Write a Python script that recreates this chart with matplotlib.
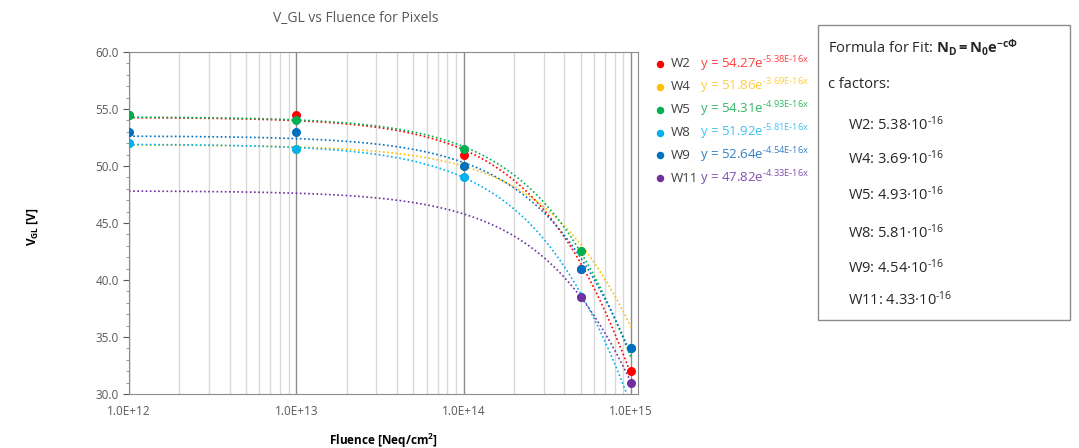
import numpy as np
import matplotlib
matplotlib.use("Agg")
import matplotlib.pyplot as plt
from matplotlib.patches import Rectangle

plt.rcParams["font.family"] = ["Open Sans", "DejaVu Sans"]
plt.rcParams["mathtext.fontset"] = "custom"
plt.rcParams["mathtext.rm"] = "Open Sans"
plt.rcParams["mathtext.bf"] = "Open Sans:bold"
plt.rcParams["mathtext.it"] = "Open Sans:italic"
plt.rcParams["axes.unicode_minus"] = False

# data
fluence = [1e12, 1e13, 1e14, 5e14, 1e15]
names = ["W2", "W4", "W5", "W8", "W9", "W11"]
colors = ["#ff0000", "#ffc000", "#00b050", "#00b0f0", "#0070c0", "#7030a0"]
eq_colors = ["#ff4040", "#ffcc40", "#33b866", "#40c0f0", "#3380c8", "#8050b0"]
vgl = {
    "W2": [54.5, 54.5, 51.0, 41.0, 32.0],
    "W4": [52.0, 51.5, 50.0, 42.5, 34.0],
    "W5": [54.5, 54.0, 51.5, 42.5, 34.0],
    "W8": [52.0, 51.5, 49.0, 38.5, 29.0],
    "W9": [53.0, 53.0, 50.0, 41.0, 34.0],
    "W11": [None, None, None, 38.5, 31.0],
}
n0 = [54.27, 51.86, 54.31, 51.92, 52.64, 47.82]
c_fac = [5.38, 3.69, 4.93, 5.81, 4.54, 4.33]  # x 1e-16

fig = plt.figure(figsize=(10.79, 4.48), dpi=100)
ax = fig.add_axes([129 / 1079, 1 - 394 / 448, 509 / 1079, 342 / 448])

xf = np.logspace(12, 15, 400)
for name, col, a, c in zip(names, colors, n0, c_fac):
    ax.plot(xf, a * np.exp(-c * 1e-16 * xf), ls=(0, (1, 1.5)), lw=1.2, color=col, zorder=2)

handles = []
for name, col in zip(names, colors):
    xs = [f for f, v in zip(fluence, vgl[name]) if v is not None]
    ys = [v for v in vgl[name] if v is not None]
    h = ax.scatter(xs, ys, s=30, color=col, zorder=3, label=name)
    handles.append(h)

ax.set_xscale("log")
ax.set_xlim(1e12, 1.1e15)
ax.set_ylim(30, 60)
ax.set_yticks(np.arange(30, 61, 5))
ax.set_yticks(np.arange(30, 61, 1), minor=True)
ax.yaxis.set_major_formatter(matplotlib.ticker.FormatStrFormatter("%.1f"))
ax.set_xticks([1e12, 1e13, 1e14, 1e15])
ax.set_xticklabels(["1.0E+12", "1.0E+13", "1.0E+14", "1.0E+15"])
ax.xaxis.set_minor_locator(matplotlib.ticker.LogLocator(base=10, subs=np.arange(2, 10)))
ax.xaxis.set_minor_formatter(matplotlib.ticker.NullFormatter())
ax.tick_params(axis="x", which="both", length=0, labelsize=8.5, colors="#595959", pad=8)
ax.tick_params(axis="y", which="major", length=4, labelsize=8.5, colors="#595959", direction="out")
ax.tick_params(axis="y", which="minor", length=2.5, color="#808080")
ax.grid(True, axis="x", which="major", color="#8c8c8c", lw=1.0)
ax.grid(True, axis="x", which="minor", color="#d9d9d9", lw=1.0)
for sp in ax.spines.values():
    sp.set_color("#8c8c8c")
ax.set_axisbelow(True)

ax.set_xlabel("Fluence [Neq/cm$^\\mathbf{2}$]", fontsize=8.5, fontweight="bold")
ax.xaxis.set_label_coords(0.5, -0.11)
ax.set_ylabel("V$_{\\mathbf{GL}}$ [V]", fontsize=8.5, fontweight="bold")
ax.yaxis.set_label_coords(-0.175, 0.49)
fig.text(356 / 1079, 1 - 18 / 448, "V_GL vs Fluence for Pixels", ha="center", va="center",
         fontsize=10, color="#595959")

leg = ax.legend(handles=handles, loc="upper left", bbox_to_anchor=(642 / 1079, 1 - 52 / 448),
                bbox_transform=fig.transFigure, frameon=False, fontsize=9.5, handletextpad=-0.2,
                labelspacing=0.75, markerscale=0.8, borderaxespad=0)
for t in leg.get_texts():
    t.set_color("#404040")

fig.canvas.draw()
inv = fig.transFigure.inverted()
for t, a, c, col in zip(leg.get_texts(), n0, c_fac, eq_colors):
    bb = t.get_window_extent()
    yc = inv.transform(((bb.x0 + bb.x1) / 2, (bb.y0 + bb.y1) / 2))[1]
    fig.text(700 / 1079, yc, "y = %.2fe$^{\\text{-%.2fE-16x}}$" % (a, c), ha="left",
             va="center", fontsize=9.5, color=col)

# formula box
fig.patches.append(Rectangle((818 / 1079, 1 - 320 / 448), 252 / 1079, 295 / 448,
                             transform=fig.transFigure, fill=False, ec="#8c8c8c", lw=1.0))
fig.text(828 / 1079, 1 - 47 / 448,
         "Formula for Fit: $\\mathbf{N_D = N_0e^{-c\\Phi}}$", ha="left", va="center",
         fontsize=10.5, color="#262626")
fig.text(828 / 1079, 1 - 85 / 448, "c factors:", ha="left", va="center", fontsize=10.5,
         color="#262626")
row_y = [125, 159, 195, 233, 268, 300]
for name, c, yy in zip(names, c_fac, row_y):
    fig.text(848 / 1079, 1 - yy / 448, "%s: %.2f\u00b710$^{\\text{-16}}$" % (name, c),
             ha="left", va="center", fontsize=10.5, color="#262626")

fig.savefig("out.png", dpi=100)
